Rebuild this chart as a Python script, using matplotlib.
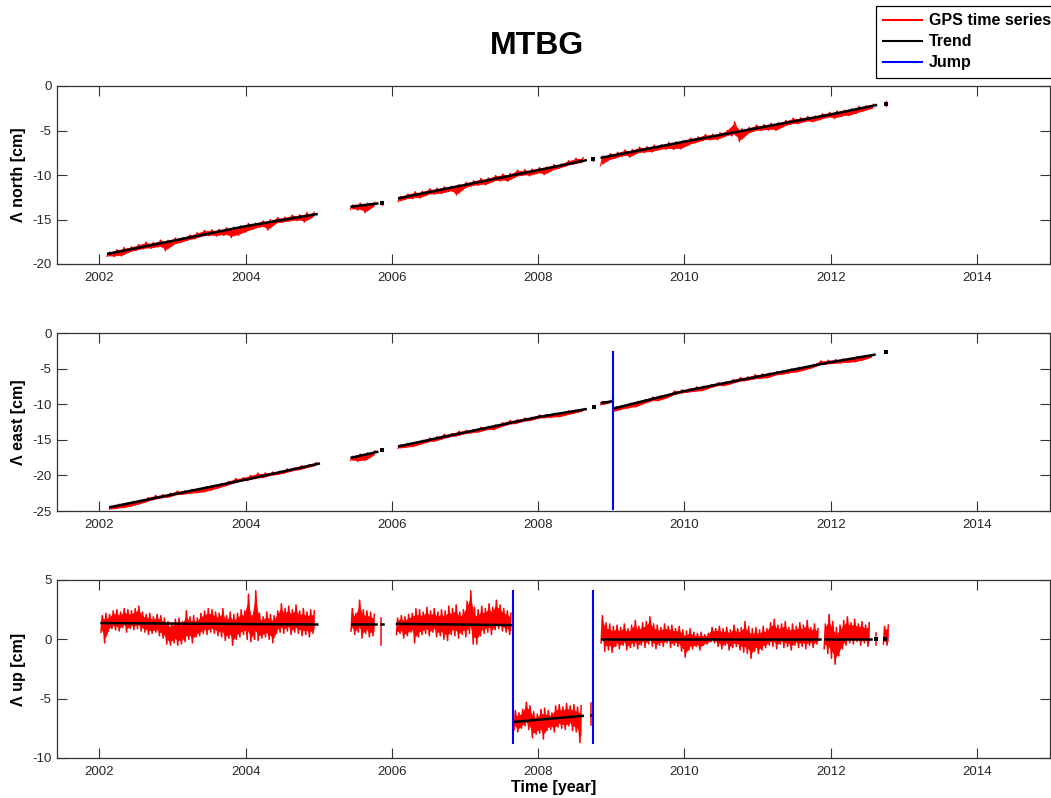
import numpy as np
import matplotlib
matplotlib.use("Agg")
import matplotlib.pyplot as plt
from matplotlib.lines import Line2D

plt.rcParams['font.family'] = ['Liberation Sans', 'DejaVu Sans']
plt.rcParams['axes.unicode_minus'] = False

STATION = "MTBG"
XLIM = (2001.42, 2015.0)
XTICKS = [2002, 2004, 2006, 2008, 2010, 2012, 2014]

# ---------------- north: residual envelopes (cm) about the trend, 0.1 yr sampling
north_start = [2002.12, 2005.45, 2005.87, 2006.10, 2008.75, 2008.87, 2012.76]
north_hi = [
    [0.2, 0.3, 0.4, 0.3, 0.4, 0.5, 0.3, 0.4, 0.2, 0.3, 0.2, 0.3, 0.4, 0.5, 0.4,
     0.3, 0.3, 0.2, 0.2, 0.3, 0.2, 0.3, 0.3, 0.4, 0.3, 0.4, 0.3, 0.4, 0.3],
    [0.2, 0.3, 0.2, 0.2],
    [0.2],
    [0.2, 0.3, 0.4, 0.3, 0.4, 0.3, 0.3, 0.2, 0.2, 0.3, 0.3, 0.4, 0.3, 0.4, 0.4,
     0.3, 0.5, 0.4, 0.3, 0.3, 0.2, 0.3, 0.2, 0.4, 0.5, 0.4],
    [0.2],
    [0.2, 0.3, 0.3, 0.4, 0.3, 0.4, 0.3, 0.3, 0.2, 0.3, 0.2, 0.2, 0.3, 0.3, 0.4,
     0.3, 0.3, 0.4, 1.2, 0.3, 0.3, 0.4, 0.3, 0.3, 0.2, 0.3, 0.4, 0.3, 0.3, 0.2,
     0.3, 0.3, 0.3, 0.2, 0.2, 0.3, 0.2, 0.2],
    [0.3],
]
north_lo = [
    [-0.3, -0.5, -0.6, -0.3, -0.3, -0.3, -0.4, -0.4, -1.0, -0.5, -0.4, -0.3, -0.3,
     -0.2, -0.3, -0.5, -0.6, -1.0, -0.9, -0.7, -0.5, -0.4, -0.9, -0.3, -0.3, -0.3,
     -0.4, -0.7, -0.3],
    [-0.3, -0.5, -0.9, -0.3],
    [-0.3],
    [-0.4, -0.3, -0.4, -0.5, -0.3, -0.4, -0.5, -0.4, -1.0, -0.4, -0.3, -0.4, -0.5,
     -0.3, -0.4, -0.6, -0.3, -0.3, -0.5, -0.4, -0.7, -0.4, -0.3, -0.2, -0.2, -0.2],
    [-0.2],
    [-0.9, -0.5, -0.4, -0.3, -0.6, -0.3, -0.4, -0.5, -0.4, -0.5, -0.7, -0.8, -0.5,
     -0.4, -0.3, -0.4, -0.5, -0.3, -0.4, -1.2, -0.5, -0.3, -0.4, -0.5, -0.7, -0.4,
     -0.3, -0.4, -0.3, -0.5, -0.4, -0.3, -0.6, -0.5, -0.6, -0.5, -0.4, -0.3],
    [-0.3],
]
north_trend_t = [[2002.12, 2004.0, 2004.97], [2005.45, 2005.80], [2005.87],
                 [2006.10, 2008.0, 2008.65], [2008.75],
                 [2008.87, 2010.0, 2012.0, 2012.62], [2012.76]]
north_trend_v = [[-18.85, -15.75, -14.4], [-13.55, -13.2], [-13.1],
                 [-12.6, -9.45, -8.35], [-8.2],
                 [-8.05, -6.25, -3.2, -2.15], [-2.0]]

# ---------------- east
east_start = [2002.15, 2005.45, 2005.87, 2006.10, 2008.77, 2008.87, 2009.05, 2012.76]
east_hi = [
    [0.1, 0.2, 0.1, 0.2, 0.1, 0.3, 0.4, 0.3, 0.3, 0.4, 0.2, 0.2, 0.1, 0.2, 0.1,
     0.2, 0.3, 0.5, 0.4, 0.5, 0.6, 0.4, 0.3, 0.2, 0.3, 0.2, 0.3, 0.2, 0.3],
    [0.2, 0.3, 0.2, 0.3],
    [0.1],
    [0.2, 0.2, 0.1, 0.2, 0.3, 0.3, 0.4, 0.3, 0.4, 0.3, 0.2, 0.3, 0.2, 0.2, 0.3,
     0.4, 0.3, 0.3, 0.2, 0.3, 0.2, 0.2, 0.1, 0.2, 0.1, 0.1],
    [0.1],
    [0.2, 0.2],
    [0.2, 0.1, 0.2, 0.2, 0.2, 0.3, 0.2, 0.1, 0.4, 0.3, 0.2, 0.3, 0.2, 0.2, 0.3,
     0.2, 0.3, 0.4, 0.3, 0.4, 0.3, 0.2, 0.2, 0.1, 0.2, 0.2, 0.1, 0.2, 0.5, 0.4,
     0.3, 0.2, 0.1, 0.2, 0.1, 0.1],
    [0.1],
]
east_lo = [
    [-0.3, -0.4, -0.5, -0.5, -0.4, -0.3, -0.2, -0.2, -0.3, -0.2, -0.3, -0.4, -0.5,
     -0.6, -0.5, -0.4, -0.3, -0.2, -0.1, -0.2, -0.2, -0.3, -0.2, -0.3, -0.3, -0.2,
     -0.3, -0.2, -0.2],
    [-0.4, -0.8, -0.9, -0.4],
    [-0.1],
    [-0.3, -0.4, -0.5, -0.4, -0.3, -0.4, -0.3, -0.2, -0.3, -0.2, -0.3, -0.4, -0.3,
     -0.5, -0.3, -0.2, -0.3, -0.2, -0.3, -0.2, -0.3, -0.4, -0.5, -0.4, -0.3, -0.2],
    [-0.1],
    [-0.3, -0.2],
    [-0.5, -0.4, -0.5, -0.6, -0.4, -0.3, -0.5, -0.4, -0.2, -0.2, -0.3, -0.4, -0.5,
     -0.3, -0.2, -0.4, -0.3, -0.2, -0.3, -0.3, -0.4, -0.5, -0.3, -0.4, -0.4, -0.5,
     -0.4, -0.3, -0.1, -0.2, -0.3, -0.4, -0.5, -0.6, -0.5, -0.3],
    [-0.1],
]
east_trend_t = [[2002.15, 2004.0, 2005.0], [2005.45, 2005.80], [2005.87],
                [2006.10, 2008.0, 2008.65], [2008.77], [2008.87, 2009.02],
                [2009.05, 2010.0, 2012.0, 2012.60], [2012.76]]
east_trend_v = [[-24.45, -20.6, -18.35], [-17.5, -16.7], [-16.5],
                [-15.9, -11.8, -10.7], [-10.4], [-9.8, -9.6],
                [-10.55, -8.15, -4.1, -3.05], [-2.7]]
east_jumps = [2009.03]

# ---------------- up: envelopes (cm), 0.05 yr sampling
up_start = [2002.03, 2005.45, 2005.85, 2006.07, 2007.68, 2008.72, 2008.87,
            2011.92, 2012.62, 2012.73]
up_hi = [
    [2.0, 2.2, 2.1, 2.4, 2.5, 2.3, 2.6, 2.5, 2.4, 2.6, 2.8, 2.3, 2.1, 2.2, 1.9,
     2.1, 2.0, 1.8, 1.5, 1.4, 1.7, 1.8, 1.5, 2.4, 1.9, 2.0, 1.8, 2.2, 2.4, 2.6,
     2.5, 2.3, 2.2, 2.6, 2.0, 2.3, 2.1, 2.2, 2.5, 2.4, 3.8, 2.0, 4.1, 2.2, 1.9,
     2.3, 2.1, 2.0, 2.4, 3.0, 2.6, 2.8, 2.5, 2.9, 2.4, 2.6, 2.3, 2.5, 2.4],
    [2.6, 2.2, 3.3, 2.5, 2.4, 2.3, 2.1],
    [1.8],
    [1.8, 2.0, 1.9, 2.1, 2.2, 2.6, 2.5, 2.3, 2.7, 2.4, 2.6, 2.3, 2.5, 2.4, 2.8,
     2.6, 2.9, 2.3, 2.5, 3.2, 4.1, 2.7, 2.5, 2.8, 2.6, 3.0, 2.7, 3.3, 2.9, 2.6,
     2.4, 2.2],
    [-6.0, -6.2, -5.9, -5.3, -5.6, -6.1, -6.3, -5.9, -5.8, -6.0, -6.2, -5.6, -5.5,
     -5.7, -5.4, -5.6, -5.5, -5.7, -5.6],
    [-5.4],
    [2.0, 1.4, 1.3, 1.1, 1.2, 1.0, 1.3, 0.9, 1.2, 1.6, 1.1, 1.4, 1.5, 1.9, 1.3,
     1.2, 1.0, 1.3, 1.1, 1.2, 0.9, 1.1, 0.8, 0.7, 0.9, 0.6, 0.5, 0.6, 0.4, 0.5,
     1.0, 0.9, 1.1, 0.9, 1.0, 0.8, 1.2, 0.9, 1.0, 1.5, 1.1, 0.9, 1.0, 0.8, 1.1,
     0.9, 1.4, 1.7, 1.2, 1.3, 1.5, 1.0, 1.3, 1.1, 1.4, 1.2, 1.6, 1.0, 1.3, 0.9],
    [1.3, 2.1, 1.5, 1.0, 1.2, 1.6, 1.9, 1.4, 1.7, 1.3, 1.5, 1.2, 1.4],
    [0.5],
    [1.1, 1.2],
]
up_lo = [
    [0.6, -0.3, 0.7, 0.9, 0.8, 0.7, 1.0, 0.6, 0.9, 0.8, 0.9, 0.7, 0.6, 0.4, 0.5,
     0.6, 0.3, 0.1, -0.4, -0.5, -0.3, -0.5, -0.4, -0.2, 0.0, -0.3, 0.2, 0.3, 0.5,
     0.4, 0.6, 0.5, 0.3, 0.2, -0.1, 0.1, -0.5, 0.0, 0.2, 0.4, 0.0, -0.2, 0.0,
     -0.1, 0.1, 0.2, 0.0, -0.3, 0.5, 0.6, 0.5, 0.7, 0.4, 0.6, 0.5, 0.3, 0.4, 0.2,
     0.5],
    [0.7, 0.4, 0.6, 0.1, 0.5, 0.2, 0.3],
    [-0.5],
    [0.4, 0.5, 0.1, 0.3, 0.6, -0.3, 0.2, 0.4, 0.5, 0.3, 0.6, 0.2, 0.3, 0.0, -0.1,
     0.4, 0.3, 0.1, 0.4, 0.2, 0.5, -0.4, -0.4, 0.3, 0.5, 0.6, 0.4, 0.8, 0.9, 0.7,
     0.6, 0.4],
    [-7.6, -7.8, -7.5, -7.3, -7.6, -8.3, -8.0, -7.9, -8.4, -7.7, -7.6, -7.8, -7.4,
     -7.5, -7.6, -7.3, -7.7, -7.8, -8.7],
    [-7.2],
    [-0.3, -1.0, -0.9, -1.1, -0.6, -0.8, -0.5, -0.9, -0.7, -0.6, -0.8, -0.5, -0.7,
     -0.4, -0.6, -0.8, -0.5, -0.6, -0.3, -0.7, -0.5, -0.6, -1.0, -1.5, -0.9, -0.8,
     -0.6, -0.9, -0.5, -0.4, -0.2, -0.3, -0.6, -0.8, -0.5, -0.9, -0.7, -0.6, -0.9,
     -1.1, -1.2, -1.6, -1.0, -1.2, -0.9, -0.7, -0.5, -0.6, -0.8, -0.4, -0.7, -0.6,
     -0.9, -0.5, -0.7, -0.6, -0.8, -0.5, -0.7, -0.4],
    [-0.8, -1.2, -1.6, -2.1, -1.4, -0.8, -0.5, -0.3, -0.4, -0.2, -0.5, -0.3, -0.6],
    [-0.5],
    [-0.4, -0.5],
]
up_trend_t = [[2002.03, 2004.98], [2005.45, 2005.78], [2005.85, 2005.88],
              [2006.07, 2007.65], [2007.68, 2008.61], [2008.72, 2008.74],
              [2008.87, 2011.85], [2011.92, 2012.55], [2012.62], [2012.75]]
up_trend_v = [[1.37, 1.25], [1.3, 1.3], [1.3, 1.3], [1.3, 1.2], [-6.95, -6.45],
              [-6.4, -6.4], [0.05, 0.05], [0.05, 0.05], [0.05], [0.05]]
up_jumps = [2007.66, 2008.755]

NE_STEP = 0.1
UP_STEP = 0.05
CORE = 0.6          # share of each bin's spread drawn as solid band
RED, BLUE = (1, 0, 0), (0, 0, 1)
FRAME = '#333333'


def draw_band(ax, t0, step, lo, hi, lw):
    # solid core around each bin's midpoint, thin strokes out to the extremes
    t = t0 + step * np.arange(len(lo))
    lo, hi = np.asarray(lo, float), np.asarray(hi, float)
    mid, half = (lo + hi) / 2, (hi - lo) / 2
    if len(t) > 1:
        ax.fill_between(t, mid - CORE * half, mid + CORE * half, color=RED,
                        lw=0.6, edgecolor=RED, zorder=2)
        x = np.column_stack([t - step / 6, t + step / 6, t + step / 2]).ravel()[:-1]
        y = np.column_stack([lo, hi, mid]).ravel()[:-1]
    else:
        x, y = np.r_[t, t], np.r_[lo, hi]
    ax.plot(x, y, color=RED, lw=lw, zorder=2)
    return np.concatenate([lo, hi])


def draw_trend(ax, tt, vv):
    for t, v in zip(tt, vv):
        if len(t) == 1:
            ax.plot(t, v, 's', color='k', ms=2.5, mew=0, zorder=3)
        else:
            ax.plot(t, v, '-', color='k', lw=1.8, zorder=3)


def draw_residual_panel(ax, starts, lo, hi, tt, vv, step):
    vals = []
    for t0, l, h, kt, kv in zip(starts, lo, hi, tt, vv):
        t = t0 + step * np.arange(len(l))
        base = np.interp(t, kt, kv)   # trend + residual
        vals.append(draw_band(ax, t0, step, base + np.array(l), base + np.array(h), 0.9))
    draw_trend(ax, tt, vv)
    return np.concatenate(vals)


def style(ax, ylim, yticks, label):
    ax.set_xlim(*XLIM)
    ax.set_ylim(*ylim)
    ax.set_xticks(XTICKS)
    ax.set_yticks(yticks)
    ax.tick_params(direction='in', top=True, right=True, length=7, width=0.8,
                   color=FRAME, labelsize=9.5, labelcolor='#262626')
    ax.tick_params(axis='x', pad=6)
    ax.tick_params(axis='y', pad=4)
    for s in ax.spines.values():
        s.set_color(FRAME)
        s.set_linewidth(0.9)
    ax.set_ylabel(label, fontsize=11.5, fontweight='bold')
    ax.yaxis.set_label_coords(-0.031, 0.5)


W, H = 1051, 798
fig = plt.figure(figsize=(W / 100, H / 100), dpi=100)


def px_axes(left, top, right, bottom):
    return fig.add_axes([left / W, 1 - bottom / H, (right - left) / W, (bottom - top) / H])


ax_n = px_axes(57, 86, 1050, 264)
ax_e = px_axes(57, 333, 1050, 511)
ax_u = px_axes(57, 580, 1050, 758)

draw_residual_panel(ax_n, north_start, north_lo, north_hi,
                    north_trend_t, north_trend_v, NE_STEP)
style(ax_n, (-20, 0), [0, -5, -10, -15, -20], 'Λ north [cm]')

e_vals = draw_residual_panel(ax_e, east_start, east_lo, east_hi,
                             east_trend_t, east_trend_v, NE_STEP)
for tj in east_jumps:
    ax_e.plot([tj, tj], [e_vals.min(), e_vals.max()], color=BLUE, lw=1.5, zorder=4)
style(ax_e, (-25, 0), [0, -5, -10, -15, -20, -25], 'Λ east [cm]')

u_vals = np.concatenate([draw_band(ax_u, t0, UP_STEP, l, h, 1.1)
                         for t0, l, h in zip(up_start, up_lo, up_hi)])
draw_trend(ax_u, up_trend_t, up_trend_v)
for tj in up_jumps:
    ax_u.plot([tj, tj], [u_vals.min(), u_vals.max()], color=BLUE, lw=1.5, zorder=4)
style(ax_u, (-10, 5), [5, 0, -5, -10], 'Λ up [cm]')
ax_u.set_xlabel('Time [year]', fontsize=11.5, fontweight='bold')
ax_u.xaxis.set_label_coords(0.5, -0.122)

fig.text(537 / W, 1 - 46 / H, STATION, ha='center', va='center',
         fontsize=23, fontweight='bold')

handles = [Line2D([], [], color=RED, lw=1.5), Line2D([], [], color='k', lw=1.5),
           Line2D([], [], color=BLUE, lw=1.5)]
leg = fig.legend(handles, ['GPS time series', 'Trend', 'Jump'], loc='upper left',
                 bbox_to_anchor=(876 / W, 1 - 6 / H), frameon=True, fancybox=False,
                 edgecolor='k', framealpha=1, borderaxespad=0, borderpad=0.45,
                 handlelength=2.45, handletextpad=0.4, labelspacing=0.38,
                 prop={'size': 11.5, 'weight': 'bold'})
leg.get_frame().set_linewidth(0.9)

fig.savefig('out.png', dpi=100)
